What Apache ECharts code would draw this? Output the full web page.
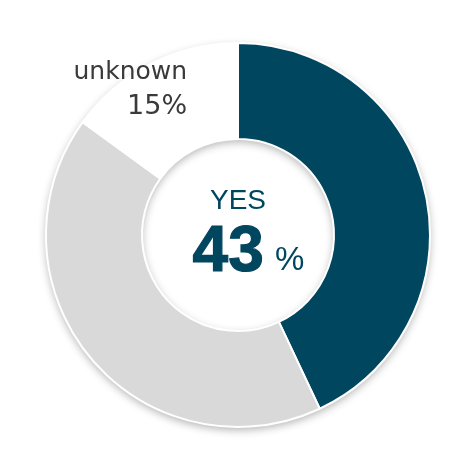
<!DOCTYPE html>
<html><head><meta charset="utf-8">
<script src="https://cdn.jsdelivr.net/npm/echarts@6/dist/echarts.min.js"></script>
<style>html,body{margin:0;padding:0;background:#fff}#c{width:470px;height:472px}</style>
</head><body><div id="c"></div>
<script>
const categories = ['YES', 'NO', 'unknown'];
const values = [43, 42, 15];
const colors = ['#01465f', '#d9d9d9', '#ffffff'];

const chart = echarts.init(document.getElementById('c'), null, {renderer: 'canvas'});
const data = categories.map((c, i) => ({
  name: c, value: values[i],
  itemStyle: {color: colors[i]},
  label: i === 2 ? {
    show: true, position: 'inside', offset: [-41, -15],
    formatter: '{a|' + c + '}\n{b|' + values[i] + '%}',
    align: 'right',
    rich: {
      a: {fontFamily: 'DejaVu Sans', fontSize: 25, color: '#3a3a3a', align: 'right', lineHeight: 36},
      b: {fontFamily: 'DejaVu Sans', fontSize: 27, color: '#3a3a3a', align: 'right', lineHeight: 34}
    }
  } : {show: false}
}));
chart.setOption({
  animation: false,
  series: [{
    type: 'pie',
    center: [238, 235],
    radius: [96, 192],
    silent: true,
    label: {show: false},
    labelLine: {show: false},
    itemStyle: {color: '#ffffff', shadowBlur: 8, shadowColor: 'rgba(0,0,0,0.3)', shadowOffsetY: 3},
    data: [{name: 'shadow', value: 1}]
  }, {
    type: 'pie',
    center: [238, 235],
    radius: [96, 192],
    startAngle: 90,
    clockwise: true,
    silent: true,
    labelLine: {show: false},
    itemStyle: {borderColor: '#ffffff', borderWidth: 2},
    data: data
  }],
  graphic: [
    {type: 'text', left: 210, top: 187, style: {text: categories[0], font: '28px "Liberation Sans"', fill: '#01465f'}},
    {type: 'text', left: 192, top: 221, style: {text: String(values[0]), font: 'bold 64px "Liberation Sans"', fill: '#01465f', stroke: '#01465f', lineWidth: 1.2}},
    {type: 'text', left: 275, top: 244, style: {text: '%', font: '33px "Liberation Sans"', fill: '#01465f'}}
  ]
});
</script></body></html>
